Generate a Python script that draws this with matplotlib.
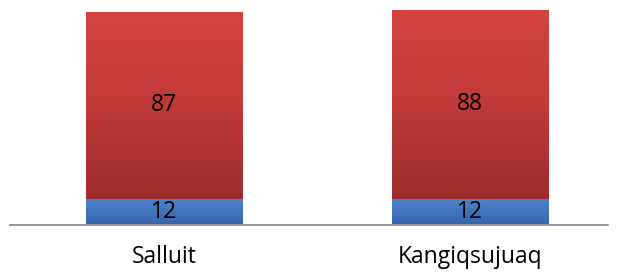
import numpy as np
import matplotlib.pyplot as plt
from matplotlib.colors import LinearSegmentedColormap

# data
communities = ["Salluit", "Kangiqsujuaq"]
blue_values = [12, 12]
red_values = [87, 88]

plt.rcParams['font.family'] = ['Open Sans', 'DejaVu Sans']

fig = plt.figure(figsize=(6.18, 2.75), dpi=100)
ax = fig.add_axes([10 / 618, 50.5 / 275, 598 / 618, 214.5 / 275])

x = np.arange(len(communities))
width = 0.51

red_cmap = LinearSegmentedColormap.from_list("red", ["#9e2c2b", "#c13a38", "#d3423f"])
blue_cmap = LinearSegmentedColormap.from_list("blue", ["#3866ae", "#4d84cc"])

def gradient_bars(bars, cmap):
    grad = np.linspace(0, 1, 256).reshape(-1, 1)
    for b in bars:
        x0, y0 = b.get_x(), b.get_y()
        w, h = b.get_width(), b.get_height()
        im = ax.imshow(grad, cmap=cmap, origin="lower", aspect="auto",
                       extent=[x0, x0 + w, y0, y0 + h], zorder=2)
        im.set_clip_path(b)
        b.set_facecolor("none")

blue_bars = ax.bar(x, blue_values, width, color="#4a7fc8", linewidth=0, zorder=1)
red_bars = ax.bar(x, red_values, width, bottom=blue_values, color="#c83c3a",
                  linewidth=0, zorder=1)
gradient_bars(blue_bars, blue_cmap)
gradient_bars(red_bars, red_cmap)

for i in range(len(communities)):
    ax.text(x[i], blue_values[i] / 2, str(blue_values[i]), ha="center",
            va="center", fontsize=16.5, color="black", zorder=3)
    ax.text(x[i], blue_values[i] + red_values[i] / 2, str(red_values[i]),
            ha="center", va="center", fontsize=16.5, color="black", zorder=3)

ax.set_xlim(-0.502, 1.45)
ax.set_ylim(0, 100)
ax.axhline(0, color="#868686", linewidth=1.2, zorder=4, clip_on=False)

ax.set_xticks(x)
ax.set_xticklabels(communities, fontsize=16.5)
ax.tick_params(axis="x", length=0, pad=15)
ax.set_yticks([])
for s in ax.spines.values():
    s.set_visible(False)

fig.savefig("out.png", dpi=100)
